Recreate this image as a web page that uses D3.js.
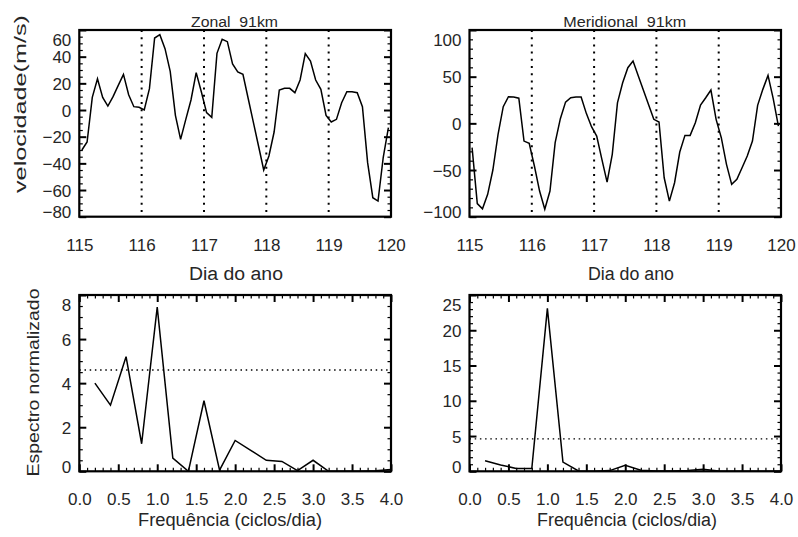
<!DOCTYPE html>
<html><head><meta charset="utf-8">
<script src="https://cdn.jsdelivr.net/npm/d3@7"></script>
<style>
body{margin:0;background:#fff}
svg{display:block}
text{font-family:"Liberation Sans",Arial,Helvetica,sans-serif;fill:#262626}
</style></head><body>
<svg id="c" width="798" height="537"></svg>
<script>
// Winds at 91 km, sampled every two hours (centred on odd hours), days 115-120
const dayTicks = [115, 116, 117, 118, 119, 120];
const dayLines = [116, 117, 118, 119];
const zonal = [-30, -24, 9.5, 23.5, 9.5, 3, 10, 18.5, 26.75, 11.5, 2.5, 2,
  0, 16, 54, 56.5, 46, 29, -4, -22, -7, 7.5, 28, 13.5,
  -2, -5.5, 42.5, 53, 51.25, 34.5, 28.5, 26.75, 8.8, -9.1, -27, -45,
  -34.5, -16.5, 15, 16.25, 16.25, 13, 22.5, 42.25, 36.75, 22.5, 15.5, -4,
  -9, -7, 5.5, 13.75, 13.75, 13, 2.5, -39.5, -65.75, -68.25, -35.75, -13.25];
const meridional = [-26, -86, -91.5, -76, -50, -11.8, 17.8, 28.5, 28.2, 27, -19, -21.4,
  -45.7, -72.5, -92, -72.5, -20.7, 5, 22.8, 27.4, 28.2, 28.2, 10.7, -3.6,
  -13.6, -38.6, -62.9, -33.2, 22, 43.5, 59.6, 66.7, 51.1, 35.5, 19.9, 4.3,
  1.4, -58.3, -83.3, -63.6, -30.7, -12.9, -12.9, 0.7, 19.6, 27.4, 35.7, 4.3,
  -15.4, -43.9, -65.4, -60, -47.6, -35, -19, 19.3, 36.4, 51.4, 26.4, -2.9];
const sampleDays = zonal.map((_, k) => 115 + (2 * k + 1) / 24);

// Normalised spectra
const freqs = [0.2, 0.4, 0.6, 0.8, 1.0, 1.2, 1.4, 1.6, 1.8, 2.0, 2.2, 2.4, 2.6, 2.8, 3.0, 3.2, 3.4, 3.6, 3.8, 4.0];
const specZonal = [4.0, 3.0, 5.2, 1.25, 7.45, 0.6, 0.0, 3.2, 0.05, 1.4, 0.95, 0.5, 0.45, 0.03, 0.5, 0.0, 0.0, 0.0, 0.02, 0.08];
const specMerid = [1.5, 0.9, 0.4, 0.4, 23.1, 1.3, 0.05, 0.02, 0.1, 0.85, 0.15, 0.05, 0.05, 0.1, 0.3, 0.05, 0.0, 0.0, 0.0, 0.0];
const significance = 4.6;

const zonalTicks = [-80, -60, -40, -20, 0, 20, 40, 60];
const meridTicks = [-100, -50, 0, 50, 100];
const specZTicks = [0, 2, 4, 6, 8];
const specMTicks = [0, 5, 10, 15, 20, 25];
const freqTicks = [0, 0.5, 1, 1.5, 2, 2.5, 3, 3.5, 4];

const FONT = '"Liberation Sans", Arial, Helvetica, sans-serif';
const svg = d3.select("#c");
const defs = svg.append("defs");
let clipId = 0;

function styleAxis(g, major) {
  g.attr("font-family", FONT).attr("font-size", 17).attr("fill", null);
  g.select(".domain").remove();
  g.selectAll(".tick line").attr("stroke", "#000").attr("stroke-width", major ? 2 : 1.2);
  g.selectAll(".tick text").attr("fill", "#262626");
}

function minorOf(domain, step, majors) {
  const out = [];
  for (let v = domain[0]; v <= domain[1] + 1e-9; v += step) {
    const r = Math.round(v * 1000) / 1000;
    if (!majors.some(m => Math.abs(m - r) < 1e-6)) out.push(r);
  }
  return out;
}

function panel(o) {
  const x = d3.scaleLinear().domain(o.xDomain).range([o.x0, o.x1]);
  const y = d3.scaleLinear().domain(o.yDomain).range([o.y1, o.y0]);
  const g = svg.append("g");
  const id = "clip" + (clipId++);
  defs.append("clipPath").attr("id", id).append("rect")
    .attr("x", o.x0).attr("y", o.y0).attr("width", o.x1 - o.x0).attr("height", o.y1 - o.y0);

  // left axis: major with labels, minor, and mirrored on the right
  const yl = g.append("g").attr("transform", `translate(${o.x0},0)`)
    .call(d3.axisLeft(y).tickValues(o.yTicks).tickSize(-7).tickPadding(8).tickFormat(d3.format("d")));
  styleAxis(yl, true);
  yl.selectAll(".tick text")
    .attr("dy", "0.36em")
    .attr("y", d => {
      const p = y(d);
      return Math.min(Math.max(p, o.y0 + 9.5), o.y1 - 5) - p;
    });
  const ylm = g.append("g").attr("transform", `translate(${o.x0},0)`)
    .call(d3.axisLeft(y).tickValues(minorOf(o.yDomain, o.yMinor, o.yTicks)).tickSize(-3.5).tickFormat(""));
  styleAxis(ylm, false);
  const yr = g.append("g").attr("transform", `translate(${o.x1},0)`)
    .call(d3.axisRight(y).tickValues(o.yTicks).tickSize(-7).tickFormat(""));
  styleAxis(yr, true);
  const yrm = g.append("g").attr("transform", `translate(${o.x1},0)`)
    .call(d3.axisRight(y).tickValues(minorOf(o.yDomain, o.yMinor, o.yTicks)).tickSize(-3.5).tickFormat(""));
  styleAxis(yrm, false);

  // bottom axis
  const xb = g.append("g").attr("transform", `translate(0,${o.y1})`)
    .call(d3.axisBottom(x).tickValues(o.xTicks).tickSize(o.xTickMarks ? -7 : 0).tickPadding(0).tickFormat(o.xFormat));
  styleAxis(xb, true);
  xb.selectAll(".tick text").attr("y", o.xLabelOffset).attr("dy", "0.36em");
  if (o.xTickMarks) {
    const xbm = g.append("g").attr("transform", `translate(0,${o.y1})`)
      .call(d3.axisBottom(x).tickValues(minorOf(o.xDomain, o.xMinor, o.xTicks)).tickSize(-3.5).tickFormat(""));
    styleAxis(xbm, false);
    const xt = g.append("g").attr("transform", `translate(0,${o.y0})`)
      .call(d3.axisTop(x).tickValues(o.xTicks).tickSize(-7).tickFormat(""));
    styleAxis(xt, true);
    const xtm = g.append("g").attr("transform", `translate(0,${o.y0})`)
      .call(d3.axisTop(x).tickValues(minorOf(o.xDomain, o.xMinor, o.xTicks)).tickSize(-3.5).tickFormat(""));
    styleAxis(xtm, false);
  }

  const plot = g.append("g").attr("clip-path", `url(#${id})`);
  if (o.vLines) {
    plot.selectAll(".vl").data(o.vLines).join("line")
      .attr("x1", d => x(d)).attr("x2", d => x(d))
      .attr("y1", o.y0).attr("y2", o.y1)
      .attr("stroke", "#000").attr("stroke-width", 2).attr("stroke-dasharray", "2,5.2");
  }
  if (o.hLine !== undefined) {
    plot.append("line")
      .attr("x1", o.x0).attr("x2", o.x1)
      .attr("y1", y(o.hLine)).attr("y2", y(o.hLine))
      .attr("stroke", "#000").attr("stroke-width", 1.4).attr("stroke-dasharray", "1.5,3.7");
  }
  plot.append("path")
    .datum(o.xs.map((v, i) => [v, o.ys[i]]))
    .attr("fill", "none").attr("stroke", "#000").attr("stroke-width", 1.5)
    .attr("stroke-linejoin", "miter")
    .attr("d", d3.line().x(d => x(d[0])).y(d => y(d[1])));

  g.append("rect")
    .attr("x", o.x0).attr("y", o.y0).attr("width", o.x1 - o.x0).attr("height", o.y1 - o.y0)
    .attr("fill", "none").attr("stroke", "#000").attr("stroke-width", 2.2);
}

const TOP = { y0: 30, y1: 216.7 };
const BOT = { y0: 295, y1: 471.3 };
const LEFT = { x0: 79.3, x1: 391 };
const RIGHT = { x0: 469.5, x1: 781 };

panel({ ...LEFT, ...TOP, xDomain: [115, 120], yDomain: [-80, 60], yTicks: zonalTicks, yMinor: 5,
  xTicks: dayTicks, xFormat: d3.format("d"), xTickMarks: false, xLabelOffset: 28,
  vLines: dayLines, xs: sampleDays, ys: zonal });
panel({ ...RIGHT, ...TOP, xDomain: [115, 120], yDomain: [-100, 100], yTicks: meridTicks, yMinor: 10,
  xTicks: dayTicks, xFormat: d3.format("d"), xTickMarks: false, xLabelOffset: 28,
  vLines: dayLines, xs: sampleDays, ys: meridional });
panel({ ...LEFT, ...BOT, xDomain: [0, 4], yDomain: [0, 8], yTicks: specZTicks, yMinor: 0.5,
  xTicks: freqTicks, xMinor: 0.1, xFormat: d3.format(".1f"), xTickMarks: true, xLabelOffset: 27.5,
  hLine: significance, xs: freqs, ys: specZonal });
panel({ ...RIGHT, ...BOT, xDomain: [0, 4], yDomain: [0, 25], yTicks: specMTicks, yMinor: 1,
  xTicks: freqTicks, xMinor: 0.1, xFormat: d3.format(".1f"), xTickMarks: true, xLabelOffset: 27.5,
  hLine: significance, xs: freqs, ys: specMerid });

// titles and axis names
function label(txt, x, y, size, len, rotate) {
  svg.append("text")
    .attr("transform", `translate(${x},${y})` + (rotate ? " rotate(-90)" : ""))
    .attr("text-anchor", "middle")
    .attr("font-size", size)
    .attr("textLength", len)
    .attr("lengthAdjust", "spacingAndGlyphs")
    .style("white-space", "pre")
    .text(txt);
}
label("Zonal  91km", 234.5, 26.5, 14, 87);
label("Meridional  91km", 624.7, 26.5, 14, 123);
label("Dia do ano", 236, 280, 18, 94);
label("Dia do ano", 631, 280, 18, 86);
label("Frequência (ciclos/dia)", 230, 526, 18, 184);
label("Frequência (ciclos/dia)", 627, 526, 18, 180);
label("velocidade(m/s)", 26, 104, 17, 178, true);
label("Espectro normalizado", 39, 382.5, 17, 188, true);
</script>
</body></html>
